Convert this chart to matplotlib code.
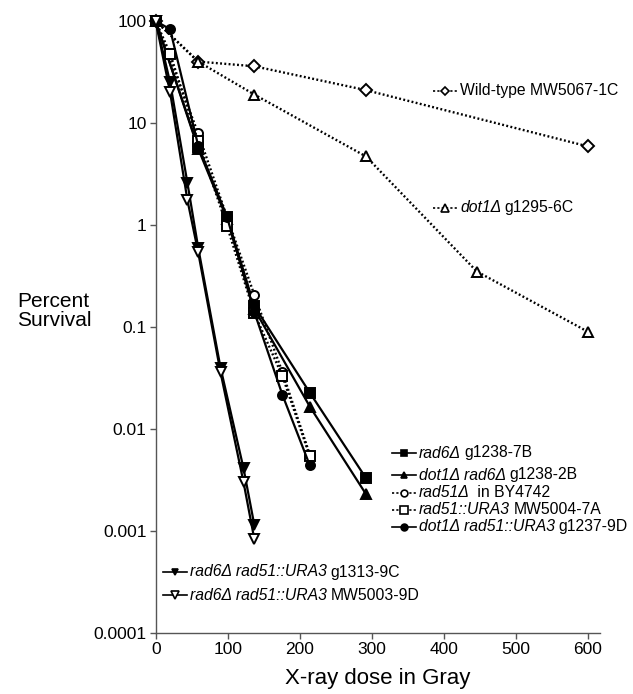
import matplotlib
matplotlib.use('Agg')
import matplotlib.pyplot as plt
from matplotlib.lines import Line2D
from matplotlib.offsetbox import AnchoredOffsetbox, DrawingArea, HPacker, TextArea

plt.rcParams['font.family'] = ['Liberation Sans', 'DejaVu Sans']

# X-ray dose (Gy) and percent survival
wt_dose = [0, 59, 137, 292, 600]
wt_surv = [100, 40, 36, 21, 5.9]
dot1_dose = [0, 59, 137, 292, 446, 600]
dot1_surv = [100, 40, 19, 4.7, 0.35, 0.09]
rad6_dose = [0, 59, 99, 137, 214, 292]
rad6_surv = [100, 5.8, 1.2, 0.16, 0.0227, 0.0033]
dot1rad6_dose = [0, 59, 99, 137, 214, 292]
dot1rad6_surv = [100, 5.6, 1.15, 0.15, 0.0166, 0.0023]
rad51_dose = [0, 59, 99, 137, 176, 214]
rad51_surv = [100, 7.9, 1.2, 0.206, 0.036, 0.0056]
ura3_dose = [0, 20, 59, 99, 137, 176, 214]
ura3_surv = [100, 48, 6.6, 0.98, 0.136, 0.033, 0.0054]
dot1ura3_dose = [0, 20, 59, 99, 137, 176, 214]
dot1ura3_surv = [100, 83, 6.0, 1.2, 0.14, 0.0216, 0.0044]
r6u3a_dose = [0, 20, 44, 59, 90, 122, 137]
r6u3a_surv = [100, 25, 2.6, 0.6, 0.04, 0.0041, 0.00114]
r6u3b_dose = [0, 20, 44, 59, 90, 122, 137]
r6u3b_surv = [100, 20, 1.76, 0.54, 0.036, 0.003, 0.00083]

ytick_vals = [0.0001, 0.001, 0.01, 0.1, 1, 10, 100]
ytick_labels = ['0.0001', '0.001', '0.01', '0.1', '1', '10', '100']
xtick_vals = [0, 100, 200, 300, 400, 500, 600]

DOT = (0, (0.8, 1.0))

# (dose, survival, italic label, plain label, marker, filled, linestyle, size)
series = [
    (wt_dose, wt_surv, '', 'Wild-type MW5067-1C', 'D', False, DOT, 6),
    (dot1_dose, dot1_surv, 'dot1Δ', 'g1295-6C', '^', False, DOT, 7.5),
    (rad6_dose, rad6_surv, 'rad6Δ', 'g1238-7B', 's', True, '-', 6.5),
    (dot1rad6_dose, dot1rad6_surv, 'dot1Δ rad6Δ', 'g1238-2B', '^', True, '-', 6.5),
    (rad51_dose, rad51_surv, 'rad51Δ', ' in BY4742', 'o', False, DOT, 6.5),
    (ura3_dose, ura3_surv, 'rad51::URA3', 'MW5004-7A', 's', False, DOT, 7.5),
    (dot1ura3_dose, dot1ura3_surv, 'dot1Δ rad51::URA3', 'g1237-9D', 'o', True, '-', 6.5),
    (r6u3a_dose, r6u3a_surv, 'rad6Δ rad51::URA3', 'g1313-9C', 'v', True, '-', 6.5),
    (r6u3b_dose, r6u3b_surv, 'rad6Δ rad51::URA3', 'MW5003-9D', 'v', False, '-', 7.5),
]

W, H = 633, 694
fig = plt.figure(figsize=(W / 100, H / 100), dpi=100)
ax = fig.add_axes([155.7 / W, 1 - 633 / H, (600 - 155.7) / W, (633 - 21) / H])

for dose, surv, it, pl, mk, filled, ls, ms in series:
    ax.plot(dose, surv, color='black', lw=1.6 if ls == '-' else 1.7, ls=ls,
            marker=mk, ms=ms, mfc='black' if filled else 'white', mec='black',
            mew=1.4, clip_on=False, zorder=3)

ax.set_yscale('log')
ax.set_ylim(1e-4, 100)
ax.set_xlim(0, 617)
ax.set_yticks(ytick_vals)
ax.set_yticklabels(ytick_labels)
ax.minorticks_off()
ax.set_xticks(xtick_vals)
for s in ['top', 'right']:
    ax.spines[s].set_visible(False)
for s in ['left', 'bottom']:
    ax.spines[s].set_color('#555555')
    ax.spines[s].set_linewidth(1.0)
ax.tick_params(axis='both', colors='#555555', labelcolor='black', labelsize=12.5,
               length=4, width=1.0, direction='out', pad=2.5)
ax.set_xlabel('X-ray dose in Gray', fontsize=16, labelpad=8)
fig.text(17 / W, 1 - 311 / H, 'Percent\nSurvival', fontsize=15, ha='left',
         va='center', linespacing=0.95)


def key(marker, filled, ls, ms):
    # short legend key; dotted series get a coarser dash so it shows at this size
    da = DrawingArea(17, 10, 0, 0)
    key_ls = '-' if ls == '-' else (0, (1.3, 1.3))
    da.add_artist(Line2D([0, 17], [5, 5], color='black', lw=1.2, ls=key_ls))
    da.add_artist(Line2D([8.5], [5], marker=marker, ms=ms, mfc='black' if filled else 'white',
                         mec='black', mew=1.2, ls='none'))
    return da


def put_row(x, y, s):
    dose, surv, it, pl, mk, filled, ls, ms = s
    parts = [key(mk, filled, ls, ms * 0.75)]
    if it:
        parts.append(TextArea(it, textprops=dict(style='italic', fontsize=11.3)))
    parts.append(TextArea(pl, textprops=dict(fontsize=11.3)))
    box = HPacker(children=parts, align='center', pad=0, sep=2.5)
    ab = AnchoredOffsetbox(loc='center left', child=box, pad=0, borderpad=0, frameon=False,
                           bbox_to_anchor=(x / W, 1 - y / H), bbox_transform=fig.transFigure)
    ax.add_artist(ab)


# label placement (pixels)
row_x = [433, 433, 392, 392, 392, 392, 392, 163, 163]
row_y = [91, 208, 453, 475, 492.5, 509.5, 526.5, 572, 595]
for s, x, y in zip(series, row_x, row_y):
    put_row(x, y, s)

fig.savefig('out.png', dpi=100)
